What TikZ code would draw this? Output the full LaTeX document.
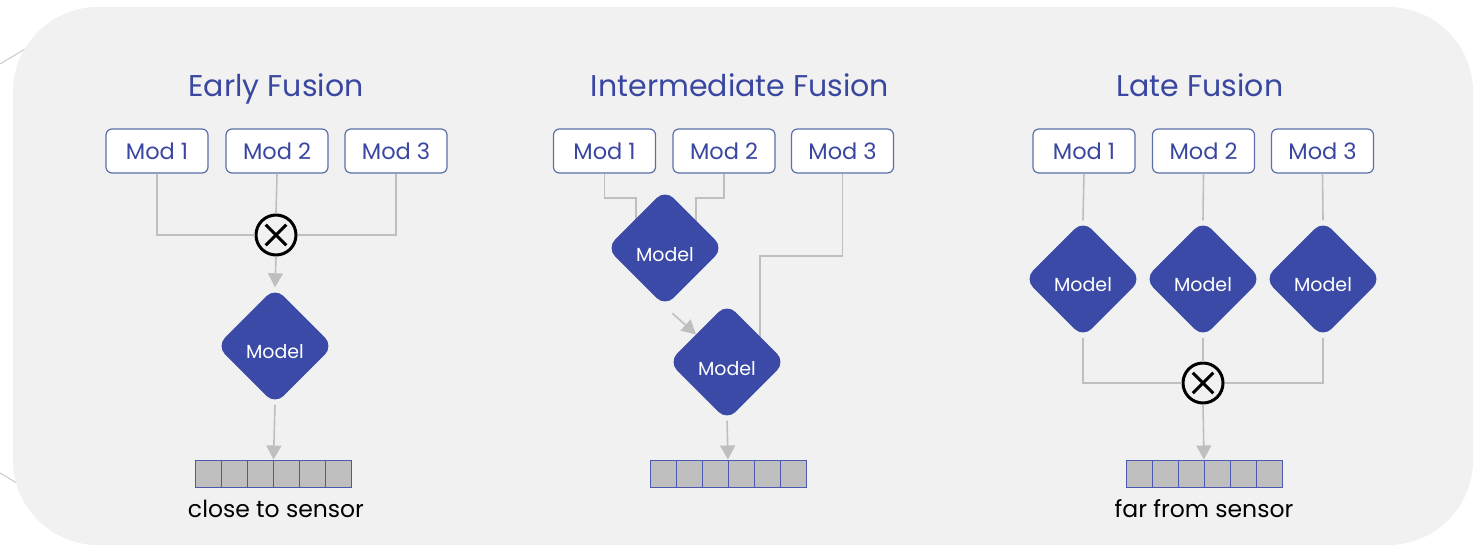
\documentclass[tikz,border=0pt]{standalone}
\usepackage{fontspec}
\setmainfont{Poppins}
\usetikzlibrary{shapes.geometric,arrows.meta,calc}
\pgfdeclarelayer{back}\pgfdeclarelayer{bg}\pgfsetlayers{back,bg,main}
\definecolor{panel}{HTML}{F1F1F1}
\definecolor{titleblue}{HTML}{3A47A0}
\definecolor{modborder}{HTML}{5A70A8}
\definecolor{modelblue}{HTML}{3A4AA6}
\definecolor{linegray}{HTML}{BFBFBF}
\definecolor{cellgray}{HTML}{BFBFBF}
\definecolor{cellblue}{HTML}{4B5AAE}
\definecolor{calloutgray}{HTML}{C8C8C8}
\newcommand{\mdltext}[1]{\raisebox{#1}[0pt][0pt]{Model}}
\tikzset{
  titletext/.style={text=titleblue, font=\fontsize{30}{34}\selectfont, inner sep=0, anchor=base},
  modbox/.style={rectangle, rounded corners=6, draw=modborder, fill=white, line width=1.2,
    minimum width=102, minimum height=44, inner sep=0, text=titleblue, font=\fontsize{22.5}{26}\selectfont},
  modelbox/.style={shape=diamond, fill=modelblue, draw=none, minimum width=117, minimum height=117,
    inner sep=0, rounded corners=12, text=white, font=\fontsize{19}{22}\selectfont},
  fuse/.style={circle, draw=black, line width=3, fill=panel, minimum size=40, inner sep=0},
  xline/.style={draw=black, line width=3, shorten <=7, shorten >=7},
  vecbox/.style={rectangle, draw=cellblue, fill=cellgray, line width=1, minimum width=156,
    minimum height=27, inner sep=0,
    path picture={\foreach \i in {1,...,5}{\draw[cellblue,line width=1]
      ($(path picture bounding box.south west)!\i/6!(path picture bounding box.south east)$) --
      ($(path picture bounding box.north west)!\i/6!(path picture bounding box.north east)$);}}},
  conn/.style={draw=linegray, line width=1.6},
  arr/.style={draw=linegray, line width=1.6, -{Triangle[width=15pt,length=14pt]}, color=linegray},
  bottomtext/.style={text=black, font=\fontsize{23.5}{27}\selectfont, inner sep=0, anchor=base},
}
\begin{document}
\begin{tikzpicture}[x=1pt,y=-1pt]
\useasboundingbox (0,0) rectangle (1474,548);
\begin{pgfonlayer}{back}
\fill[white] (0,0) rectangle (1474,548);
\draw[calloutgray, line width=1] (0,64) -- (40,40);
\draw[calloutgray, line width=1] (0,473) -- (40,497);
\fill[panel, rounded corners=85] (13,7) rectangle (1473,545);
\end{pgfonlayer}

% ---------- Early fusion ----------
\node[titletext] (et) at (276,97) {Early Fusion};
\node[modbox] (e1) at (157,151) {Mod 1};
\node[modbox] (e2) at (277,151) {Mod 2};
\node[modbox] (e3) at (396,151) {Mod 3};
\node[fuse] (ex) at (276,235) {};
\draw[xline] (ex.north west) -- (ex.south east);
\draw[xline] (ex.north east) -- (ex.south west);
\node[modelbox] (em) at (275,346) {\mdltext{-12pt}};
\node[vecbox] (ev) at (273.5,473.5) {};
\node[bottomtext] (el) at (276,517) {close to sensor};
\draw[conn] (e1.south) |- (ex.west);
\draw[conn] (e2.south) -- (ex.north);
\draw[conn] (e3.south) |- (ex.east);
\draw[arr] (ex.south) -- (em.north);
\draw[arr] (em.south) -- (ev.north);

% ---------- Intermediate fusion ----------
\node[titletext] (it) at (740,97) {Intermediate Fusion};
\node[modbox] (i1) at (604.5,151) {Mod 1};
\node[modbox] (i2) at (724,151) {Mod 2};
\node[modbox] (i3) at (842.5,151) {Mod 3};
\node[modelbox] (im1) at (665,248) {\mdltext{-13pt}};
\node[modelbox] (im2) at (727,362) {\mdltext{-13pt}};
\node[vecbox] (iv) at (728,473.5) {};
\coordinate (c1) at (636,198);
\coordinate (c2) at (696,198);
\coordinate (c3) at (760,256);
\begin{pgfonlayer}{bg}
\draw[conn] (i1.south) |- (c1) -- (c1 |- im1.center);
\draw[conn] (i2.south) |- (c2) -- (c2 |- im1.center);
\draw[conn] (i3.south) |- (c3) -- (c3 |- im2.center);
\end{pgfonlayer}
\draw[arr, shorten <=10pt] (im1.south) -- (im2);
\draw[arr] (im2.south) -- (iv.north);

% ---------- Late fusion ----------
\node[titletext] (lt) at (1200,97) {Late Fusion};
\node[modbox] (l1) at (1084,151) {Mod 1};
\node[modbox] (l2) at (1203.5,151) {Mod 2};
\node[modbox] (l3) at (1322.5,151) {Mod 3};
\node[modelbox] (lm1) at (1083,279) {\mdltext{-12.5pt}};
\node[modelbox] (lm2) at (1203,279) {\mdltext{-12.5pt}};
\node[modelbox] (lm3) at (1323,279) {\mdltext{-12.5pt}};
\node[fuse] (lx) at (1203,383) {};
\draw[xline] (lx.north west) -- (lx.south east);
\draw[xline] (lx.north east) -- (lx.south west);
\node[vecbox] (lv) at (1204,473.5) {};
\node[bottomtext] (ll) at (1204,517) {far from sensor};
\draw[conn] (l1.south) -- (lm1.north);
\draw[conn] (l2.south) -- (lm2.north);
\draw[conn] (l3.south) -- (lm3.north);
\draw[conn] (lm1.south) |- (lx.west);
\draw[conn] (lm2.south) -- (lx.north);
\draw[conn] (lm3.south) |- (lx.east);
\draw[arr] (lx.south) -- (lv.north);
\end{tikzpicture}
\end{document}
